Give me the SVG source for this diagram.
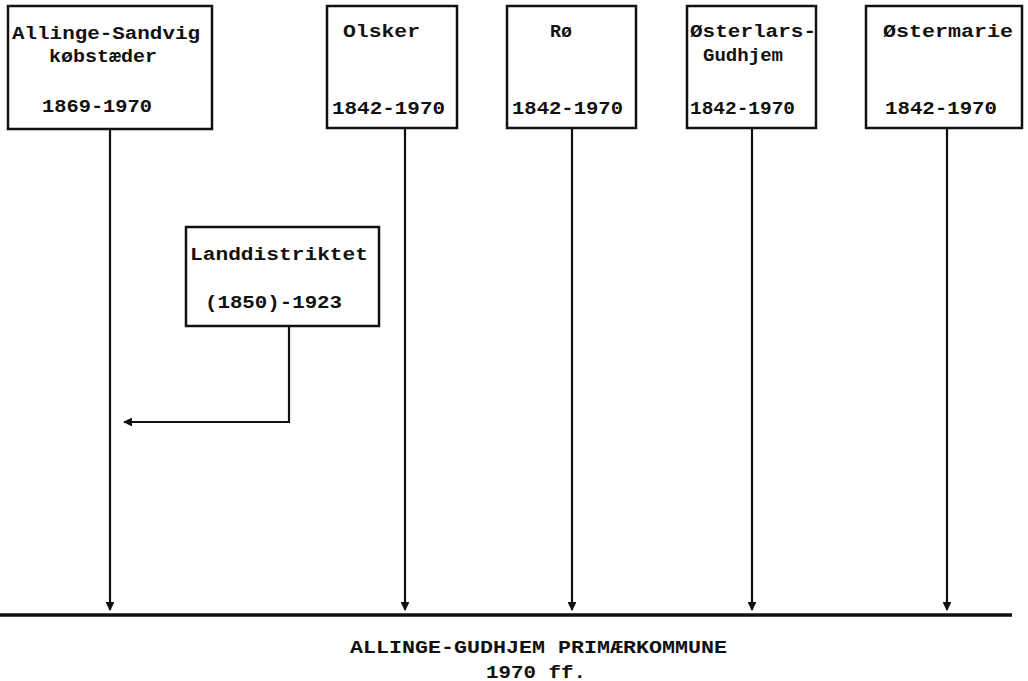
<svg xmlns="http://www.w3.org/2000/svg" width="1028" height="681" viewBox="0 0 1028 681">
<defs>
<style>
.box{fill:#fff;stroke:#111;stroke-width:2.5}
.t{font-family:"Liberation Mono","DejaVu Sans Mono",monospace;font-weight:bold;font-size:18px;fill:#111}
.ln{fill:none;stroke:#111;stroke-width:2.2}
</style>
<marker id="ah" viewBox="0 0 10 10" refX="9" refY="5" markerWidth="4.5" markerHeight="4" orient="auto" markerUnits="strokeWidth">
<path d="M0,0 L10,5 L0,10 z" fill="#111"/>
</marker>
</defs>
<rect width="1028" height="681" fill="#fff"/>
<g id="connectors">
<path class="ln" d="M110,130 V610" marker-end="url(#ah)"/>
<path class="ln" d="M405,129 V610" marker-end="url(#ah)"/>
<path class="ln" d="M572,129 V610" marker-end="url(#ah)"/>
<path class="ln" d="M752,129 V610" marker-end="url(#ah)"/>
<path class="ln" d="M947,129 V610" marker-end="url(#ah)"/>
<path class="ln" d="M289,326 V422 H124" marker-end="url(#ah)"/>
</g>
<g id="baseline">
<line x1="0" y1="615" x2="1012" y2="615" stroke="#111" stroke-width="3.5"/>
</g>
<g id="allinge">
<rect class="box" x="8" y="6" width="204" height="123"/>
<text class="t" x="12" y="39" textLength="188" lengthAdjust="spacingAndGlyphs">Allinge-Sandvig</text>
<text class="t" x="49" y="62" textLength="108" lengthAdjust="spacingAndGlyphs">købstæder</text>
<text class="t" x="42" y="112" textLength="110" lengthAdjust="spacingAndGlyphs">1869-1970</text>
</g>
<g id="olsker">
<rect class="box" x="327" y="6" width="130" height="122"/>
<text class="t" x="343" y="37" textLength="77" lengthAdjust="spacingAndGlyphs">Olsker</text>
<text class="t" x="332" y="114" textLength="113" lengthAdjust="spacingAndGlyphs">1842-1970</text>
</g>
<g id="ro">
<rect class="box" x="507" y="6" width="129" height="122"/>
<text class="t" x="550" y="37" textLength="22" lengthAdjust="spacingAndGlyphs">Rø</text>
<text class="t" x="512" y="114" textLength="111" lengthAdjust="spacingAndGlyphs">1842-1970</text>
</g>
<g id="osterlars">
<rect class="box" x="687" y="6" width="129" height="122"/>
<text class="t" x="690" y="37" textLength="126" lengthAdjust="spacingAndGlyphs">Østerlars-</text>
<text class="t" x="703" y="61" textLength="80" lengthAdjust="spacingAndGlyphs">Gudhjem</text>
<text class="t" x="690" y="114" textLength="105" lengthAdjust="spacingAndGlyphs">1842-1970</text>
</g>
<g id="ostermarie">
<rect class="box" x="866" y="6" width="156" height="122"/>
<text class="t" x="883" y="37" textLength="130" lengthAdjust="spacingAndGlyphs">Østermarie</text>
<text class="t" x="885" y="114" textLength="112" lengthAdjust="spacingAndGlyphs">1842-1970</text>
</g>
<g id="landdistriktet">
<rect class="box" x="186" y="227" width="193" height="99"/>
<text class="t" x="190" y="260" textLength="178" lengthAdjust="spacingAndGlyphs">Landdistriktet</text>
<text class="t" x="205" y="308" textLength="137" lengthAdjust="spacingAndGlyphs">(1850)-1923</text>
</g>
<g id="primaerkommune">
<text class="t" x="350" y="653" font-size="15" textLength="377" lengthAdjust="spacingAndGlyphs">ALLINGE-GUDHJEM PRIMÆRKOMMUNE</text>
<text class="t" x="486" y="678" font-size="15" textLength="100" lengthAdjust="spacingAndGlyphs">1970 ff.</text>
</g>
</svg>
